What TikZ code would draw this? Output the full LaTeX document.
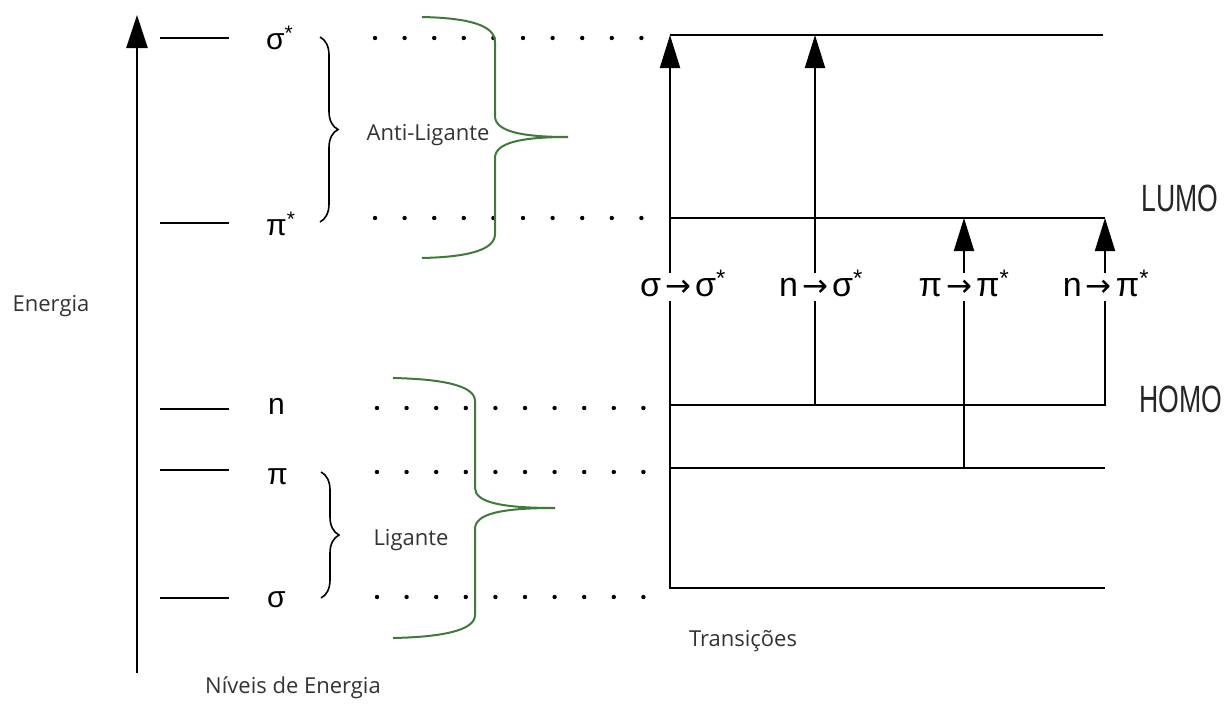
\documentclass[tikz,border=0pt]{standalone}
\usepackage{fontspec}
\usepackage{graphicx}
\setmainfont{Open Sans}
\newfontfamily\grkfont{Liberation Sans}
\newfontfamily\arrowfont{DejaVu Sans}
\usetikzlibrary{arrows.meta,decorations.pathreplacing}
\definecolor{braceGreen}{HTML}{3F7A3A}
\definecolor{labelGray}{HTML}{333333}
\newcommand{\tto}{\kern4pt{\arrowfont\fontsize{31}{31}\selectfont →}\kern4pt}
\newcommand{\exc}{\textsuperscript{*}}

\begin{document}
\begin{tikzpicture}[x=1pt,y=-1pt,
    lvl/.style={line width=2.5pt},
    tline/.style={line width=2pt},
    orb/.style={font=\grkfont\fontsize{30}{30}\selectfont, inner sep=0pt, text height=15pt, text depth=0pt, anchor=west},
    trlab/.style={font=\grkfont\fontsize{34}{34}\selectfont, inner sep=2pt, text height=21pt, text depth=3pt},
    lbl/.style={font=\fontsize{22}{22}\selectfont, text=labelGray},
    mo/.style={font=\grkfont\fontsize{38}{38}\selectfont, text=black!85},
    upArrow/.style={tline, -{Triangle[length=33pt,width=20pt]}},
    blackBrace/.style={decorate, decoration={brace,amplitude=18pt}, line width=1.6pt},
    greenBrace/.style={draw=braceGreen, line width=2pt}]
  \useasboundingbox (0,0) rectangle (1232,704);

  % eixo de energia
  \coordinate (axB) at (137,673);
  \coordinate (axT) at (137,15);
  \draw[line width=2.5pt, -{Triangle[length=33pt,width=21pt]}] (axB) -- (axT);
  \node[lbl] (energia) at (51,306) {Energia};
  \node[lbl] (niveis) at (293,688) {Níveis de Energia};

  % niveis
  \foreach \y in {38,223,409,470,598}
    \draw[lvl] (160,\y) -- (229,\y);
  \node[orb] (lSS) at (266,42) {σ\exc};
  \node[orb] (lPS) at (266,228) {π\exc};
  \node[orb] (lN) at (268,407) {n};
  \node[orb] (lP) at (267,477) {π};
  \node[orb] (lS) at (267,600) {σ};

  \draw[blackBrace] (320,37) -- (320,222);
  \draw[blackBrace] (321,472) -- (321,598);
  \node[lbl] (antilig) at (428,135) {Anti-Ligante};
  \node[lbl] (lig) at (411,540) {Ligante};

  \foreach \y/\x in {38/375,218/375,408/377,472/377,597/377}
    \foreach \i in {0,...,9}
      \fill (\x+29.6*\i,\y) circle (2.2pt);

  \draw[greenBrace] (422,17) .. controls (468,18) and (495,25) .. (495,42) -- (495,116)
    .. controls (495,131) and (520,137) .. (568,137)
    .. controls (520,137) and (495,143) .. (495,158) -- (495,234)
    .. controls (495,250) and (468,257) .. (422,258);
  \draw[greenBrace] (393,378) .. controls (440,379) and (475,385) .. (475,401) -- (475,488)
    .. controls (475,502) and (500,508) .. (555,508)
    .. controls (500,508) and (475,514) .. (475,529) -- (475,615)
    .. controls (475,631) and (440,637) .. (393,638);

  % transicoes
  \coordinate (ssL) at (670,35);   \coordinate (ssR) at (1103,35);
  \coordinate (lumoL) at (670,218); \coordinate (lumoR) at (1105,218);
  \coordinate (homoL) at (670,405); \coordinate (homoR) at (1105,405);
  \coordinate (piL) at (670,468);   \coordinate (piR) at (1105,468);
  \coordinate (sL) at (670,588);    \coordinate (sR) at (1105,588);
  \coordinate (x2) at (815,0);
  \coordinate (x3) at (964,0);

  \node[trlab] (t1) at (683,287) {σ\tto σ\exc};
  \node[trlab] (t2) at (821,287) {n\tto σ\exc};
  \node[trlab] (t3) at (964,287) {π\tto π\exc};
  \node[trlab] (t4) at (1106,287) {n\tto π\exc};

  \draw[tline] (ssL) -- (ssR);
  \draw[tline] (lumoL) -- (lumoR);
  \draw[tline] (piL) -- (piR);
  \draw[tline] (sR) -- (sL) -- (sL |- t1.south);
  \draw[upArrow] (sL |- t1.north) -- (ssL);
  \draw[tline] (x2 |- homoL) -- (x2 |- t2.south);
  \draw[upArrow] (x2 |- t2.north) -- (x2 |- ssL);
  \draw[tline] (x3 |- piL) -- (x3 |- t3.south);
  \draw[upArrow] (x3 |- t3.north) -- (x3 |- lumoL);
  \draw[tline] (homoL) -- (homoR) -- (homoR |- t4.south);
  \draw[upArrow] (homoR |- t4.north) -- (lumoR);

  \node[mo] (lumo) at (1180,198) {\scalebox{0.7}[1]{LUMO}};
  \node[mo] (homo) at (1181,399) {\scalebox{0.7}[1]{HOMO}};
  \node[lbl] (transicoes) at (743,641) {Transições};
\end{tikzpicture}
\end{document}
